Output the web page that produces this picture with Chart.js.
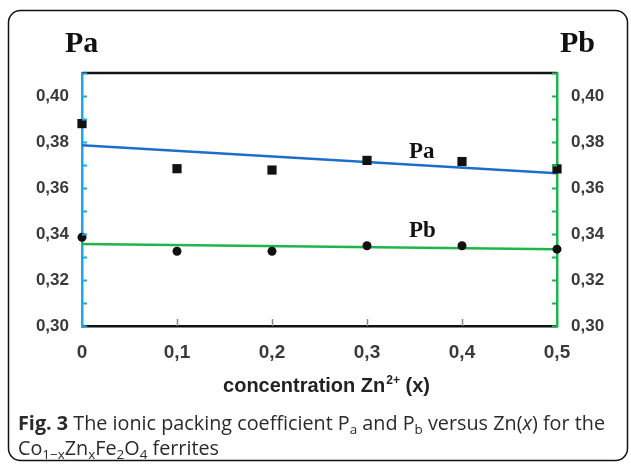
<!DOCTYPE html>
<html>
<head>
<meta charset="utf-8">
<script src="https://cdn.jsdelivr.net/npm/chart.js@4/dist/chart.umd.min.js"></script>
<style>
  html, body { margin: 0; padding: 0; background: #fff; }
  #wrap { width: 631px; height: 465px; }
</style>
</head>
<body>
<div id="wrap"><canvas id="chart-canvas" width="631" height="465"></canvas></div>
<script>
// Zn concentration x and the two packing coefficients
var conc = [0, 0.1, 0.2, 0.3, 0.4, 0.5];
var pa = [0.388, 0.3684, 0.3678, 0.372, 0.3715, 0.3683];
var pb = [0.3386, 0.3325, 0.3325, 0.3349, 0.3349, 0.3334];

// linear fits (end points)
var fitX = [0, 0.5];
var paFit = [0.3786, 0.3664];
var pbFit = [0.3356, 0.3334];

var xTicks = [0, 0.1, 0.2, 0.3, 0.4, 0.5];
var yMin = 0.30, yMax = 0.41, yStep = 0.01;

var BLUE_AXIS = '#1aa7ec';
var GREEN = '#1fb54a';
var BLUE_FIT = '#1c6fc9';
var LABEL = '#3a3a3a';

function pts(xs, ys) {
    return xs.map(function (x, i) { return { x: x, y: ys[i] }; });
}

function commaNum(v, d) {
    return v.toFixed(d).replace('.', ',');
}

// draws a run of text pieces, some as subscripts
function drawRuns(ctx, runs, x, y, size) {
    runs.forEach(function (r) {
        var s = size, dy = 0, weight = '', style = '';
        if (r.b) weight = 'bold ';
        if (r.i) style = 'italic ';
        if (r.sub) { s = size * 0.68; dy = size * 0.22; }
        ctx.font = style + weight + s + 'px "Open Sans", sans-serif';
        ctx.fillText(r.t, x, y + dy);
        x += ctx.measureText(r.t).width;
    });
}

var decorations = {
    id: 'decorations',
    beforeDraw: function (chart) {
        var ctx = chart.ctx;
        ctx.save();
        ctx.fillStyle = '#fff';
        ctx.fillRect(0, 0, chart.width, chart.height);
        ctx.strokeStyle = '#111';
        ctx.lineWidth = 1.5;
        ctx.beginPath();
        ctx.roundRect(8.5, 10.5, 619, 450, 12);
        ctx.stroke();
        ctx.restore();
    },
    afterDraw: function (chart) {
        var ctx = chart.ctx;
        var a = chart.chartArea;
        var xs = chart.scales.x, yl = chart.scales.y;
        ctx.save();

        // frame line on top
        ctx.strokeStyle = '#111';
        ctx.lineWidth = 2.5;
        ctx.beginPath();
        ctx.moveTo(a.left, a.top);
        ctx.lineTo(a.right, a.top);
        ctx.stroke();

        // inward ticks on both value axes
        ctx.lineWidth = 2;
        yl.ticks.forEach(function (t) {
            var py = Math.round(yl.getPixelForValue(t.value)) + 0.5;
            ctx.strokeStyle = BLUE_AXIS;
            ctx.beginPath();
            ctx.moveTo(a.left, py);
            ctx.lineTo(a.left + 5, py);
            ctx.stroke();
            ctx.strokeStyle = GREEN;
            ctx.beginPath();
            ctx.moveTo(a.right, py);
            ctx.lineTo(a.right - 5, py);
            ctx.stroke();
        });
        ctx.strokeStyle = '#888';
        ctx.lineWidth = 1.5;
        xs.ticks.forEach(function (t) {
            if (t.value <= 0 || t.value >= 0.5) return;
            var px = Math.round(xs.getPixelForValue(t.value)) + 0.5;
            ctx.beginPath();
            ctx.moveTo(px, a.bottom);
            ctx.lineTo(px, a.bottom - 7);
            ctx.stroke();
        });

        // series names
        ctx.fillStyle = '#111';
        ctx.textBaseline = 'alphabetic';
        ctx.textAlign = 'left';
        ctx.font = 'bold 30px "Liberation Serif", serif';
        ctx.fillText('Pa', 65, 52);
        ctx.fillText('Pb', 560, 52);
        ctx.font = 'bold 23px "Liberation Serif", serif';
        ctx.fillText('Pa', 409, 158);
        ctx.fillText('Pb', 409, 237);

        // x axis title
        ctx.fillStyle = '#222';
        var big = 'bold 20px "Liberation Sans", Arial, sans-serif';
        var small = 'bold 12px "Liberation Sans", Arial, sans-serif';
        var t1 = 'concentration Zn', t2 = '2+', t3 = ' (x)';
        ctx.font = big;
        var w1 = ctx.measureText(t1).width, w3 = ctx.measureText(t3).width;
        ctx.font = small;
        var w2 = ctx.measureText(t2).width;
        var x0 = 326 - (w1 + w2 + w3) / 2;
        var by = 392;
        ctx.font = big;
        ctx.fillText(t1, x0, by);
        ctx.font = small;
        ctx.fillText(t2, x0 + w1 + 1, by - 8);
        ctx.font = big;
        ctx.fillText(t3, x0 + w1 + w2 + 1, by);

        // caption
        ctx.fillStyle = '#2a2a2a';
        drawRuns(ctx, [
            { t: 'Fig. 3', b: true },
            { t: ' The ionic packing coefficient P' },
            { t: 'a', sub: true },
            { t: ' and P' },
            { t: 'b', sub: true },
            { t: ' versus Zn(' },
            { t: 'x', i: true },
            { t: ') for the' }
        ], 18, 430, 19.8);
        drawRuns(ctx, [
            { t: 'Co' },
            { t: '1\u2212x', sub: true },
            { t: 'Zn' },
            { t: 'x', sub: true },
            { t: 'Fe' },
            { t: '2', sub: true },
            { t: 'O' },
            { t: '4', sub: true },
            { t: ' ferrites' }
        ], 18, 455, 19.8);

        ctx.restore();
    }
};

var yTickOpts = {
    stepSize: yStep,
    autoSkip: false,
    color: LABEL,
    font: { family: '"Liberation Sans", Arial, sans-serif', size: 17, weight: 'bold' },
    callback: function (v) {
        return Math.round(v * 100) % 2 === 0 ? commaNum(v, 2) : '';
    }
};

var ctx = document.getElementById('chart-canvas').getContext('2d');
var myChart = new Chart(ctx, {
    type: 'scatter',
    data: {
        datasets: [
            {
                label: 'Pa fit',
                type: 'line',
                data: pts(fitX, paFit),
                borderColor: BLUE_FIT,
                borderWidth: 2.5,
                pointRadius: 0,
                fill: false,
                order: 2
            },
            {
                label: 'Pb fit',
                type: 'line',
                data: pts(fitX, pbFit),
                borderColor: GREEN,
                borderWidth: 2.5,
                pointRadius: 0,
                fill: false,
                order: 2
            },
            {
                label: 'Pa',
                data: pts(conc, pa),
                pointStyle: 'rect',
                pointRadius: 6.5,
                backgroundColor: '#111',
                borderColor: '#111',
                borderWidth: 0,
                clip: false,
                order: 1
            },
            {
                label: 'Pb',
                data: pts(conc, pb),
                pointStyle: 'circle',
                pointRadius: 4.5,
                backgroundColor: '#111',
                borderColor: '#111',
                borderWidth: 0,
                clip: false,
                order: 1
            }
        ]
    },
    options: {
        responsive: false,
        animation: false,
        layout: { padding: { left: 0, right: 0, top: 73, bottom: 99 } },
        plugins: {
            legend: { display: false },
            tooltip: { enabled: false }
        },
        scales: {
            x: {
                type: 'linear',
                min: 0,
                max: 0.5,
                afterBuildTicks: function (scale) {
                    scale.ticks = xTicks.map(function (v) { return { value: v }; });
                },
                afterFit: function (scale) { scale.height = 40; },
                grid: { drawOnChartArea: false, drawTicks: false },
                border: { color: '#111', width: 2.5 },
                ticks: {
                    padding: 15,
                    color: LABEL,
                    font: { family: '"Liberation Sans", Arial, sans-serif', size: 19, weight: 'bold' },
                    callback: function (v) { return v === 0 ? '0' : commaNum(v, 1); }
                }
            },
            y: {
                position: 'left',
                min: yMin,
                max: yMax,
                afterFit: function (scale) { scale.width = 82; },
                grid: { drawOnChartArea: false, drawTicks: false },
                border: { color: BLUE_AXIS, width: 2.5 },
                ticks: Object.assign({ padding: 13 }, yTickOpts)
            },
            y2: {
                position: 'right',
                min: yMin,
                max: yMax,
                afterFit: function (scale) { scale.width = 74; },
                grid: { drawOnChartArea: false, drawTicks: false },
                border: { color: GREEN, width: 2.5 },
                ticks: Object.assign({ padding: 14 }, yTickOpts)
            }
        }
    },
    plugins: [decorations]
});
</script>
</body>
</html>
